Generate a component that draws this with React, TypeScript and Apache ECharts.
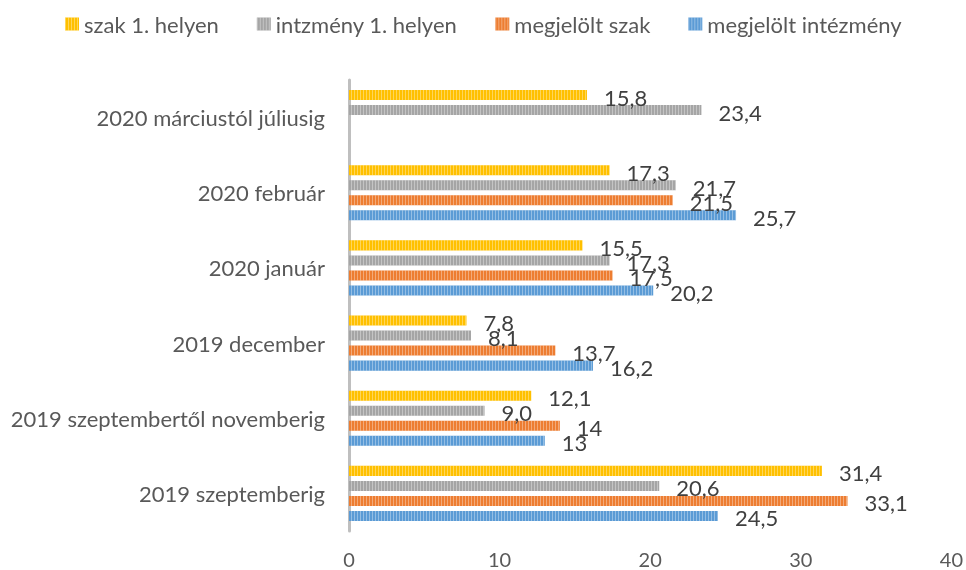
import React, { useEffect, useRef } from "react";
import * as echarts from "echarts";

const categories = [
  "2020 márciustól júliusig",
  "2020 február",
  "2020 január",
  "2019 december",
  "2019 szeptembertől novemberig",
  "2019 szeptemberig",
];

const seriesNames = ["szak 1. helyen", "intzmény 1. helyen", "megjelölt szak", "megjelölt intézmény"];
const seriesColors = ["#FFC000", "#A5A5A5", "#ED7D31", "#5B9BD5"];

const szakElso = [15.8, 17.3, 15.5, 7.8, 12.1, 31.4];
const intezmenyElso = [23.4, 21.7, 17.3, 8.1, 9.0, 20.6];
const megjeloltSzak = [null, 21.5, 17.5, 13.7, 14, 33.1];
const megjeloltIntezmeny = [null, 25.7, 20.2, 16.2, 13, 24.5];

const szakElsoLabels = ["15,8", "17,3", "15,5", "7,8", "12,1", "31,4"];
const intezmenyElsoLabels = ["23,4", "21,7", "17,3", "8,1", "9,0", "20,6"];
const megjeloltSzakLabels = ["", "21,5", "17,5", "13,7", "14", "33,1"];
const megjeloltIntezmenyLabels = ["", "25,7", "20,2", "16,2", "13", "24,5"];

const xTicks = { min: 0, max: 40, interval: 10 };

const FONT = "Lato";

export default function App() {
  const ref = useRef<HTMLDivElement>(null);
  useEffect(() => {
    if (!ref.current) return;
    const chart = echarts.init(ref.current, undefined, { renderer: "svg" });
    const values = [szakElso, intezmenyElso, megjeloltSzak, megjeloltIntezmeny];
    const labels = [szakElsoLabels, intezmenyElsoLabels, megjeloltSzakLabels, megjeloltIntezmenyLabels];
    const series = seriesNames.map((name, i) => ({
      name,
      type: "bar",
      data: values[i],
      barGap: "50%",
      barCategoryGap: "26.7%",
      itemStyle: {
        color: seriesColors[i],
        decal: {
          symbol: "rect",
          symbolSize: 1,
          color: "rgba(255,255,255,0.35)",
          dashArrayX: [1, 2],
          dashArrayY: [6, 0],
          rotation: 0,
        },
      },
      label: {
        show: true,
        position: "right",
        distance: 17,
        offset: [0, 2],
        color: "#404040",
        fontSize: 22,
        fontFamily: FONT,
        formatter: (p: any) => labels[i][p.dataIndex],
      },
    }));
    chart.setOption({
      animation: false,
      textStyle: { fontFamily: FONT },
      legend: {
        data: seriesNames,
        top: 8,
        left: 60,
        itemWidth: 14,
        itemHeight: 13,
        itemGap: 38,
        icon: "rect",
        textStyle: { fontSize: 22, color: "#595959", fontFamily: FONT },
      },
      grid: { left: 349, right: 14, top: 80, bottom: 39, containLabel: false },
      xAxis: {
        type: "value",
        min: xTicks.min,
        max: xTicks.max,
        interval: xTicks.interval,
        axisLine: { show: false },
        axisTick: { show: false },
        splitLine: { show: false },
        axisLabel: { fontSize: 20, lineHeight: 20, color: "#595959", margin: 18, fontFamily: FONT },
      },
      yAxis: {
        type: "category",
        data: categories,
        inverse: true,
        axisLine: { show: true, lineStyle: { color: "#BFBFBF", width: 3 } },
        axisTick: { show: false },
        axisLabel: { fontSize: 22, color: "#595959", margin: 24, fontFamily: FONT },
      },
      series,
    });
    return () => chart.dispose();
  }, []);
  return (
    <div
      ref={ref}
      style={{ position: "fixed", left: 0, top: 0, width: 966, height: 570 }}
    />
  );
}
